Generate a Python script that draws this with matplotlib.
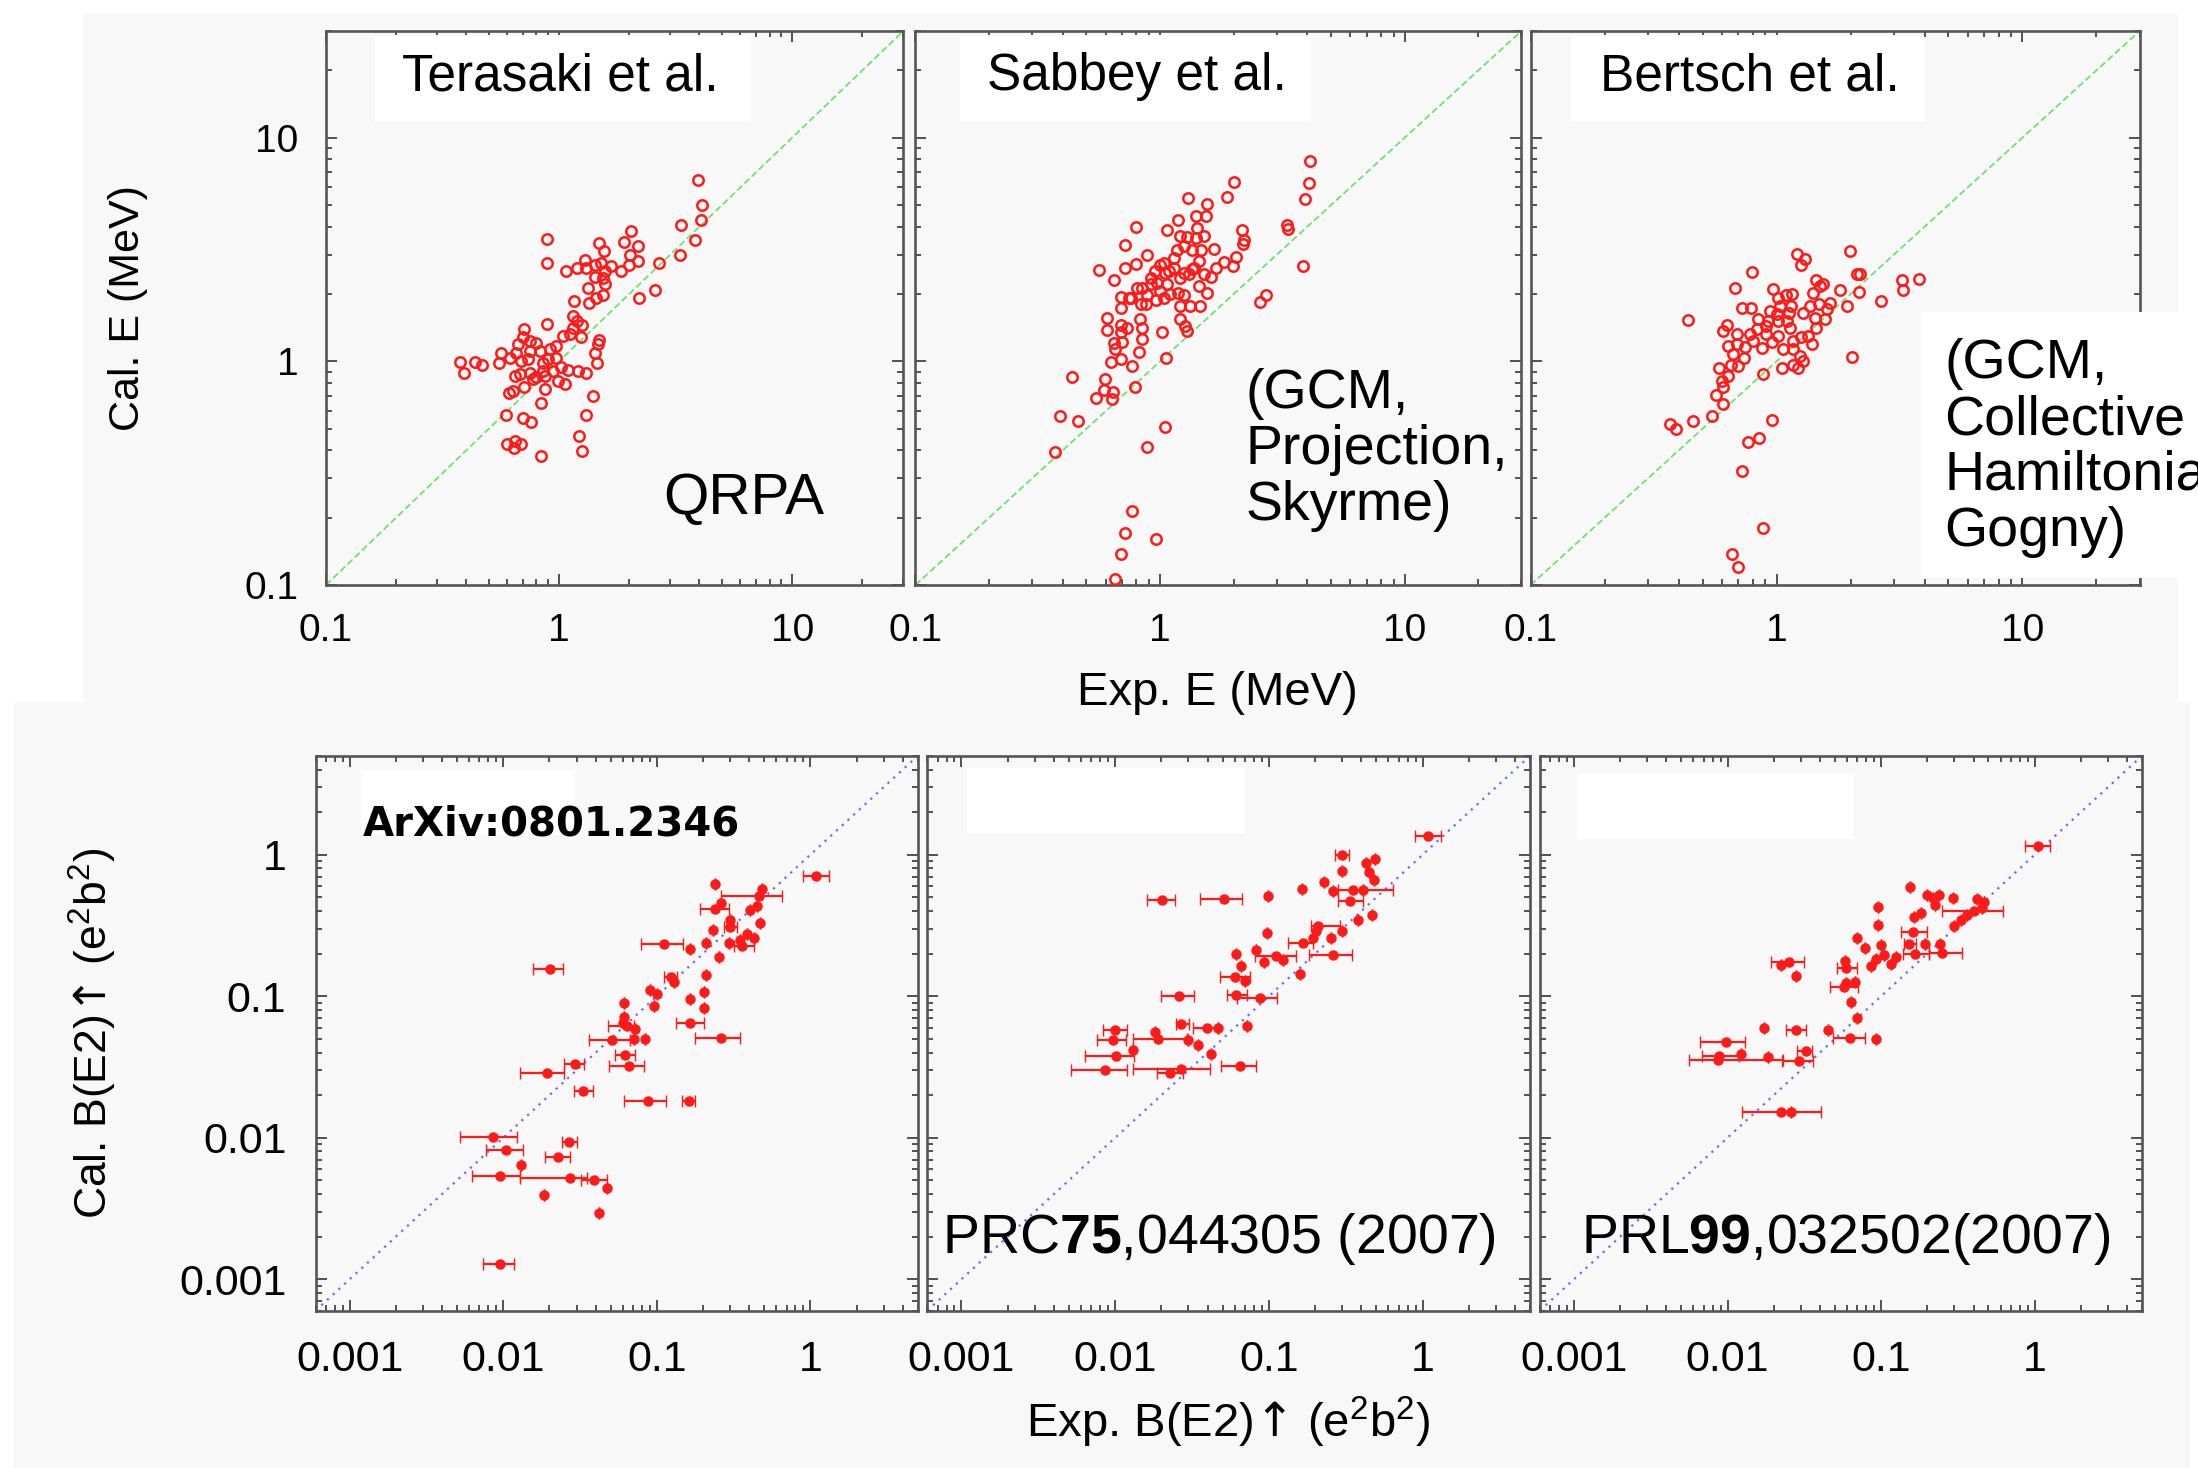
"""
Energies and B(E2) values: calculation vs experiment for six model sets
"""

import numpy as np
import matplotlib
matplotlib.use('Agg')
import matplotlib.pyplot as plt
from matplotlib.patches import Rectangle
from matplotlib.ticker import LogLocator, FuncFormatter, NullFormatter

plt.rcParams['font.family'] = ['Liberation Sans', 'DejaVu Sans']
plt.rcParams['mathtext.fontset'] = 'custom'
plt.rcParams['mathtext.rm'] = 'Liberation Sans'
plt.rcParams['mathtext.it'] = 'Liberation Sans:italic'
plt.rcParams['mathtext.bf'] = 'Liberation Sans:bold'
plt.rcParams['mathtext.sf'] = 'DejaVu Sans'  # only used for the tall up-arrow

# ---- top row: 2+ energies (MeV), exp vs cal ----
terasaki_exp = [3.93, 4.10, 4.06, 3.34, 3.84, 3.30, 2.69, 2.57, 2.21, 2.04,
                1.90, 2.19, 2.02, 2.19, 1.48, 1.56, 0.887, 0.887, 1.07, 1.19,
                1.29, 1.31, 1.42, 1.52, 1.67, 1.85, 1.99, 1.57, 1.42, 1.54,
                1.57, 1.33, 1.54, 1.44, 1.35, 1.16, 1.15, 1.19, 1.26, 0.887,
                0.705, 1.15, 1.04, 1.11, 1.24, 1.48, 1.47, 1.43, 1.46, 0.70,
                0.747, 0.80, 0.667, 0.656, 0.747, 0.825, 0.91, 0.97, 0.565, 0.614,
                0.69, 0.735, 0.895, 0.97, 0.375, 0.391, 0.438, 0.467, 0.552, 0.853,
                0.853, 0.645, 0.677, 0.747, 0.80, 0.867, 0.94, 1.02, 1.09, 0.99,
                1.06, 1.20, 1.31, 0.867, 0.707, 0.634, 0.608, 0.772, 1.40, 0.839,
                0.590, 0.70, 0.755, 1.31, 1.22, 1.26, 0.60, 0.645, 0.69, 0.64,
                0.839]
terasaki_cal = [6.48, 4.98, 4.30, 4.08, 3.48, 2.98, 2.74, 2.08, 1.92, 3.81,
                3.42, 3.27, 3.00, 2.80, 3.38, 3.11, 3.52, 2.75, 2.53, 2.62,
                2.85, 2.62, 2.71, 2.76, 2.68, 2.53, 2.71, 2.53, 2.38, 2.36,
                2.21, 2.12, 1.99, 1.92, 1.82, 1.86, 1.59, 1.51, 1.46, 1.47,
                1.39, 1.41, 1.30, 1.32, 1.28, 1.24, 1.19, 1.09, 0.98, 1.28,
                1.23, 1.21, 1.19, 1.09, 1.11, 1.11, 1.13, 1.17, 1.09, 1.04,
                1.00, 1.02, 1.02, 1.04, 0.995, 0.89, 0.995, 0.965, 0.98, 0.98,
                0.907, 0.862, 0.877, 0.89, 0.847, 0.862, 0.907, 0.94, 0.914, 0.82,
                0.79, 0.907, 0.886, 0.752, 0.765, 0.739, 0.719, 0.833, 0.702, 0.651,
                0.576, 0.556, 0.534, 0.576, 0.466, 0.399, 0.428, 0.442, 0.428, 0.41,
                0.378]

sabbey_exp = [4.10, 4.07, 3.92, 3.85, 3.30, 3.34, 2.71, 2.56, 2.01, 1.88,
              2.17, 2.21, 2.19, 2.04, 1.98, 1.83, 1.66, 1.69, 1.55, 1.54,
              1.40, 1.30, 1.18, 1.07, 1.42, 1.51, 1.40, 1.29, 1.21, 1.47,
              1.35, 1.25, 1.17, 1.14, 1.04, 1.00, 0.95, 1.05, 1.14, 1.25,
              1.38, 1.44, 1.51, 1.61, 1.44, 1.56, 1.33, 1.46, 1.21, 1.18,
              1.10, 1.07, 1.00, 0.96, 0.914, 0.886, 0.845, 0.872, 0.832, 0.794,
              0.722, 0.88, 0.798, 0.722, 0.565, 0.647, 0.689, 0.745, 0.689, 0.604,
              0.607, 0.689, 0.734, 0.689, 0.826, 0.845, 0.845, 0.70, 0.647, 0.657,
              0.627, 0.689, 0.764, 0.819, 1.02, 1.21, 1.27, 1.29, 1.06, 0.598,
              0.588, 0.643, 0.549, 0.637, 0.788, 0.437, 0.388, 0.46, 0.371, 1.05,
              0.886, 0.769, 0.717, 0.965, 0.695, 0.657,
              0.974, 1.21, 1.31, 0.914, 0.807, 0.757, 1.04, 1.25, 1.09, 1.35]
sabbey_cal = [7.87, 6.26, 5.30, 2.66, 4.08, 3.92, 1.98, 1.84, 6.32, 5.41,
              3.85, 3.50, 3.36, 2.92, 2.66, 2.77, 3.19, 2.62, 5.05, 4.45,
              4.45, 5.37, 4.30, 3.85, 3.95, 3.62, 3.56, 3.58, 3.62, 3.16,
              3.14, 3.27, 3.16, 2.90, 2.75, 2.71, 2.53, 2.49, 2.62, 2.49,
              2.62, 2.80, 2.45, 2.39, 2.17, 2.03, 1.77, 1.76, 1.77, 2.03,
              2.01, 2.21, 2.06, 1.89, 2.21, 1.99, 2.13, 1.80, 1.80, 2.73,
              2.62, 3.00, 3.98, 3.30, 2.55, 2.32, 1.94, 1.92, 1.74, 1.56,
              1.38, 1.46, 1.41, 1.35, 1.54, 1.41, 1.26, 1.22, 1.21, 1.13,
              0.99, 1.02, 0.955, 1.10, 1.35, 1.54, 1.44, 1.37, 1.03, 0.833,
              0.744, 0.731, 0.683, 0.679, 0.764, 0.847, 0.568, 0.543, 0.395, 0.511,
              0.416, 0.214, 0.171, 0.160, 0.137, 0.106,
              2.24, 2.36, 2.45, 2.36, 2.13, 1.92, 1.92, 1.99, 2.53, 2.58]

bertsch_exp = [1.99, 1.21, 1.30, 1.26, 0.798, 2.13, 2.18, 3.25, 3.79, 3.27,
               2.17, 2.67, 1.94, 1.81, 1.45, 1.50, 1.55, 1.41, 1.65, 1.60,
               1.49, 1.37, 1.28, 1.43, 1.57, 1.45, 1.34, 1.26, 1.17, 1.40,
               0.677, 0.97, 1.09, 1.16, 0.721, 0.784, 1.015, 1.03, 1.15, 1.12,
               1.00, 0.925, 0.842, 0.91, 1.10, 1.13, 0.63, 0.607, 0.688, 0.779,
               0.829, 0.91, 1.015, 0.636, 0.688, 0.743, 0.803, 0.869, 0.954, 0.666,
               0.736, 0.65, 0.698, 0.584, 0.636, 0.598, 0.607, 0.565, 0.603, 0.544,
               0.458, 0.368, 0.39, 0.437, 0.882, 1.05, 1.17, 1.22, 1.28, 1.24,
               1.06, 1.17, 2.02, 0.954, 0.767, 0.85, 0.721, 0.882, 0.66, 0.698,
               1.015, 0.94]
bertsch_cal = [3.11, 3.03, 2.87, 2.71, 2.51, 2.45, 2.45, 2.31, 2.34, 2.08,
               2.04, 1.86, 1.77, 2.08, 2.30, 2.17, 2.21, 2.03, 1.83, 1.71,
               1.80, 1.77, 1.65, 1.57, 1.54, 1.41, 1.30, 1.28, 1.23, 1.20,
               2.13, 2.10, 1.99, 2.00, 1.73, 1.73, 1.92, 1.77, 1.77, 1.65,
               1.62, 1.51, 1.54, 1.44, 1.51, 1.41, 1.46, 1.37, 1.32, 1.32,
               1.39, 1.32, 1.30, 1.17, 1.19, 1.16, 1.23, 1.15, 1.22, 1.08,
               1.04, 0.965, 0.955, 0.938, 0.862, 0.819, 0.764, 0.709, 0.645, 0.572,
               0.543, 0.525, 0.499, 1.53, 0.882, 0.938, 0.965, 0.929, 1.00, 1.06,
               1.13, 1.13, 1.05, 0.549, 0.434, 0.455, 0.325, 0.179, 0.138, 0.12,
               1.51, 1.68]

# ---- bottom row: B(E2) (e^2 b^2), exp vs cal, with exp error range lo..hi ----
arxiv_exp = [1.09, 0.240, 0.484, 0.461, 0.45, 0.406, 0.240, 0.262, 0.298, 0.301,
             0.472, 0.231, 0.387, 0.427, 0.35, 0.294, 0.359, 0.209, 0.164, 0.112,
             0.253, 0.21, 0.124, 0.13, 0.0907, 0.100, 0.204, 0.165, 0.202, 0.0964,
             0.0614, 0.0614, 0.0602, 0.0640, 0.0724, 0.165, 0.0833, 0.0706, 0.0511, 0.262,
             0.0623, 0.0655, 0.0294, 0.0193, 0.0202, 0.033, 0.0871, 0.161, 0.00857, 0.0105,
             0.027, 0.0229, 0.0130, 0.00955, 0.0273, 0.0388, 0.0474, 0.0183, 0.0422, 0.00955]
arxiv_cal = [0.703, 0.624, 0.573, 0.508, 0.436, 0.405, 0.416, 0.456, 0.348, 0.309,
             0.33, 0.296, 0.277, 0.258, 0.251, 0.238, 0.225, 0.238, 0.216, 0.235,
             0.188, 0.141, 0.136, 0.126, 0.110, 0.104, 0.107, 0.0964, 0.0828, 0.0860,
             0.0898, 0.0716, 0.0649, 0.0621, 0.0589, 0.0649, 0.050, 0.050, 0.0489, 0.0503,
             0.0382, 0.0321, 0.033, 0.0288, 0.156, 0.0214, 0.0181, 0.0181, 0.0102, 0.00819,
             0.00938, 0.00731, 0.00641, 0.00537, 0.0052, 0.00503, 0.00444, 0.00397, 0.00293, 0.00128]
arxiv_lo = [0.891, 0.240, 0.484, 0.262, 0.45, 0.406, 0.19, 0.262, 0.298, 0.272,
            0.472, 0.231, 0.387, 0.427, 0.35, 0.294, 0.316, 0.209, 0.164, 0.0789,
            0.253, 0.21, 0.111, 0.13, 0.0907, 0.100, 0.204, 0.165, 0.202, 0.0964,
            0.0614, 0.0614, 0.0602, 0.0478, 0.0724, 0.134, 0.0833, 0.0706, 0.036, 0.178,
            0.0531, 0.0485, 0.0247, 0.0128, 0.0157, 0.0287, 0.0608, 0.146, 0.00519, 0.00767,
            0.0241, 0.0188, 0.0130, 0.00625, 0.0129, 0.0322, 0.0474, 0.0183, 0.0422, 0.00738]
arxiv_hi = [1.32, 0.240, 0.484, 0.654, 0.45, 0.406, 0.294, 0.262, 0.298, 0.333,
            0.472, 0.231, 0.387, 0.427, 0.35, 0.294, 0.427, 0.209, 0.164, 0.148,
            0.253, 0.21, 0.135, 0.13, 0.0907, 0.100, 0.204, 0.165, 0.202, 0.0964,
            0.0614, 0.0614, 0.0602, 0.0706, 0.0724, 0.202, 0.0833, 0.0706, 0.0672, 0.346,
            0.0724, 0.0820, 0.0334, 0.0250, 0.0245, 0.0384, 0.115, 0.178, 0.0122, 0.0134,
            0.0302, 0.0273, 0.0130, 0.0128, 0.0349, 0.0474, 0.0474, 0.0183, 0.0422, 0.0118]

prc_exp = [1.09, 0.297, 0.487, 0.427, 0.297, 0.451, 0.48, 0.228, 0.164, 0.262,
           0.354, 0.412, 0.337, 0.0991, 0.0513, 0.0202, 0.472, 0.382, 0.297, 0.252,
           0.209, 0.203, 0.193, 0.166, 0.0966, 0.083, 0.0613, 0.0928, 0.111, 0.123,
           0.262, 0.0661, 0.16, 0.0598, 0.0703, 0.026, 0.0613, 0.0873, 0.0269, 0.0393,
           0.0469, 0.0721, 0.00994, 0.0182, 0.0191, 0.00969, 0.0297, 0.0347, 0.0131, 0.0102,
           0.042, 0.00863, 0.0269, 0.0228, 0.0651]
prc_cal = [1.35, 0.998, 0.934, 0.875, 0.771, 0.75, 0.665, 0.643, 0.57, 0.554,
           0.563, 0.56, 0.471, 0.511, 0.484, 0.478, 0.378, 0.344, 0.287, 0.257,
           0.316, 0.287, 0.257, 0.237, 0.282, 0.214, 0.20, 0.175, 0.193, 0.18,
           0.195, 0.164, 0.143, 0.137, 0.128, 0.0998, 0.102, 0.0967, 0.0641, 0.0593,
           0.0593, 0.0616, 0.0574, 0.0558, 0.0495, 0.0489, 0.0489, 0.0455, 0.0415, 0.0376,
           0.0393, 0.0301, 0.0307, 0.0289, 0.0324]
prc_lo = [0.889, 0.268, 0.487, 0.427, 0.297, 0.451, 0.48, 0.228, 0.164, 0.262,
          0.282, 0.412, 0.282, 0.0991, 0.0359, 0.016, 0.472, 0.382, 0.297, 0.252,
          0.188, 0.203, 0.193, 0.133, 0.0966, 0.083, 0.0613, 0.0928, 0.0817, 0.123,
          0.182, 0.0661, 0.16, 0.0481, 0.0703, 0.0199, 0.0532, 0.062, 0.0247, 0.0322,
          0.0469, 0.0721, 0.00832, 0.0182, 0.0131, 0.0076, 0.0297, 0.0347, 0.0131, 0.00637,
          0.042, 0.0052, 0.0131, 0.0187, 0.0489]
prc_hi = [1.32, 0.333, 0.487, 0.427, 0.297, 0.451, 0.48, 0.228, 0.164, 0.262,
          0.643, 0.412, 0.408, 0.0991, 0.0668, 0.0246, 0.472, 0.382, 0.297, 0.252,
          0.292, 0.203, 0.193, 0.193, 0.0966, 0.083, 0.0613, 0.0928, 0.15, 0.123,
          0.345, 0.0661, 0.16, 0.0759, 0.0703, 0.0326, 0.0721, 0.1136, 0.0301, 0.0469,
          0.0469, 0.0721, 0.0119, 0.0182, 0.0293, 0.0118, 0.0297, 0.0347, 0.0131, 0.0132,
          0.042, 0.0119, 0.0415, 0.0276, 0.0826]

prl_exp = [1.05, 0.155, 0.198, 0.218, 0.239, 0.292, 0.225, 0.424, 0.469, 0.457,
           0.404, 0.365, 0.331, 0.299, 0.0957, 0.182, 0.164, 0.0957, 0.162, 0.0702,
           0.1006, 0.0788, 0.152, 0.193, 0.243, 0.167, 0.251, 0.105, 0.125, 0.0925,
           0.0859, 0.116, 0.025, 0.0223, 0.0279, 0.0581, 0.0595, 0.0678, 0.059, 0.0575,
           0.0636, 0.0702, 0.0173, 0.0279, 0.0453, 0.0629, 0.0933, 0.00977, 0.0324, 0.0122,
           0.00883, 0.00861, 0.0184, 0.029, 0.0223, 0.0259]
prl_cal = [1.16, 0.592, 0.522, 0.495, 0.522, 0.495, 0.444, 0.487, 0.461, 0.421,
           0.398, 0.377, 0.348, 0.312, 0.428, 0.388, 0.363, 0.321, 0.283, 0.258,
           0.232, 0.22, 0.235, 0.235, 0.235, 0.20, 0.202, 0.195, 0.188, 0.182,
           0.163, 0.17, 0.175, 0.165, 0.138, 0.177, 0.159, 0.126, 0.124, 0.117,
           0.0907, 0.0704, 0.0598, 0.0573, 0.0582, 0.0508, 0.0495, 0.0473, 0.0409, 0.0392,
           0.0377, 0.0357, 0.0371, 0.0348, 0.0152, 0.0152]
prl_lo = [0.867, 0.155, 0.198, 0.218, 0.239, 0.292, 0.225, 0.424, 0.469, 0.457,
          0.251, 0.365, 0.331, 0.299, 0.0957, 0.182, 0.164, 0.0957, 0.135, 0.0702,
          0.1006, 0.0788, 0.141, 0.193, 0.243, 0.138, 0.206, 0.105, 0.125, 0.0925,
          0.0859, 0.116, 0.0193, 0.0223, 0.0279, 0.0581, 0.0513, 0.0678, 0.059, 0.0464,
          0.0636, 0.0702, 0.0173, 0.024, 0.0453, 0.0483, 0.0933, 0.00664, 0.0283, 0.0122,
          0.00687, 0.00557, 0.0184, 0.0226, 0.0125, 0.0259]
prl_hi = [1.26, 0.155, 0.198, 0.218, 0.239, 0.292, 0.225, 0.424, 0.469, 0.457,
          0.627, 0.365, 0.331, 0.299, 0.0957, 0.182, 0.164, 0.0957, 0.198, 0.0702,
          0.1006, 0.0788, 0.169, 0.193, 0.243, 0.206, 0.336, 0.105, 0.125, 0.0925,
          0.0859, 0.116, 0.0316, 0.0223, 0.0279, 0.0581, 0.0702, 0.0678, 0.059, 0.071,
          0.0636, 0.0702, 0.0173, 0.0324, 0.0453, 0.0788, 0.0933, 0.0129, 0.0357, 0.0122,
          0.0119, 0.0231, 0.0184, 0.0361, 0.0406, 0.0259]

BG = '#f8f8f8'
RED = '#ff1a1a'
UP = '$\\mathsf{\u2191}$'  # DejaVu arrow, typed as a plain char so mathtext adds no spacing


def style_axes(ax, lims, tick_size, pad, show_y):
    ax.set_xscale('log')
    ax.set_yscale('log')
    ax.set_xlim(lims)
    ax.set_ylim(lims)
    ax.set_facecolor(BG)
    for s in ax.spines.values():
        s.set_color('#555555')
        s.set_linewidth(1.9)
    for axis in (ax.xaxis, ax.yaxis):
        axis.set_major_locator(LogLocator(base=10, numticks=12))
        axis.set_minor_locator(LogLocator(base=10, subs=np.arange(2, 10), numticks=12))
        axis.set_minor_formatter(NullFormatter())
        axis.set_major_formatter(FuncFormatter(lambda v, p: '%g' % v))
    ax.tick_params(which='both', direction='in', top=True, right=True,
                   color='#444444', width=1.3, labelsize=tick_size, pad=pad)
    ax.tick_params(which='major', length=8)
    ax.tick_params(which='minor', length=4)
    if not show_y:
        ax.tick_params(labelleft=False)


def white_box(ax, x0, y0, x1, y1):
    ax.add_patch(Rectangle((x0, y0), x1 - x0, y1 - y0, transform=ax.transAxes,
                           facecolor='white', edgecolor='none', zorder=5, clip_on=False))


def draw():
    fig = plt.figure(figsize=(21.98, 14.68), dpi=100)
    fig.patch.set_facecolor('white')

    # light grey backdrops of the two original figures
    fig.add_artist(Rectangle((0.0378, 0.5218), 0.953, 0.4693, transform=fig.transFigure,
                             facecolor=BG, edgecolor='none', zorder=0))
    fig.add_artist(Rectangle((0.0064, 0.0), 0.990, 0.5218, transform=fig.transFigure,
                             facecolor=BG, edgecolor='none', zorder=0))

    # top row: energies
    e_lims = (0.1, 30)
    top_rects = [[0.1483, 0.6015, 0.2627, 0.3774],
                 [0.4165, 0.6015, 0.2757, 0.3774],
                 [0.6964, 0.6015, 0.2771, 0.3774]]
    top_data = [(terasaki_exp, terasaki_cal), (sabbey_exp, sabbey_cal), (bertsch_exp, bertsch_cal)]
    top_axes = []
    for i, (rect, (ex, ca)) in enumerate(zip(top_rects, top_data)):
        ax = fig.add_axes(rect)
        style_axes(ax, e_lims, 28, 20, show_y=(i == 0))
        ax.plot(e_lims, e_lims, linestyle=(0, (4, 2)), color='#66e066', linewidth=1.2, zorder=2)
        ax.plot(ex, ca, 'o', mfc='none', mec=RED, ms=7.5, mew=1.8, zorder=3)
        top_axes.append(ax)

    ax1, ax2, ax3 = top_axes
    white_box(ax1, 0.085, 0.836, 0.736, 0.993)
    ax1.text(0.132, 0.917, 'Terasaki et al.', transform=ax1.transAxes, fontsize=37,
             va='center', ha='left', zorder=6)
    ax1.text(0.584, 0.155, 'QRPA', transform=ax1.transAxes, fontsize=42,
             va='center', ha='left', zorder=6)

    white_box(ax2, 0.073, 0.836, 0.652, 0.993)
    ax2.text(0.118, 0.917, 'Sabbey et al.', transform=ax2.transAxes, fontsize=37,
             va='center', ha='left', zorder=6)
    ax2.text(0.544, 0.244, '(GCM,\nProjection,\nSkyrme)', transform=ax2.transAxes,
             fontsize=40, va='center', ha='left', linespacing=1.1, zorder=6)

    white_box(ax3, 0.067, 0.836, 0.646, 0.993)
    ax3.text(0.114, 0.917, 'Bertsch et al.', transform=ax3.transAxes, fontsize=37,
             va='center', ha='left', zorder=6)
    # the reference crops this label at the right edge of the picture
    white_box(ax3, 0.641, 0.013, 1.25, 0.493)
    ax3.text(0.679, 0.247, '(GCM,\nCollective\nHamiltonian,\nGogny)', transform=ax3.transAxes,
             fontsize=40, va='center', ha='left', linespacing=1.1, zorder=6, clip_on=False)

    fig.text(0.0582, 0.7902, 'Cal. E (MeV)', rotation=90, fontsize=31, ha='center', va='center')
    fig.text(0.5537, 0.5279, 'Exp. E (MeV)', fontsize=34, ha='center', va='center')

    # bottom row: B(E2)
    b_lims = (6e-4, 5)
    bot_rects = [[0.1436, 0.1072, 0.2739, 0.3779],
                 [0.4219, 0.1072, 0.2742, 0.3779],
                 [0.7006, 0.1072, 0.2739, 0.3779]]
    bot_data = [(arxiv_exp, arxiv_cal, arxiv_lo, arxiv_hi),
                (prc_exp, prc_cal, prc_lo, prc_hi),
                (prl_exp, prl_cal, prl_lo, prl_hi)]
    bot_axes = []
    for i, (rect, (ex, ca, lo, hi)) in enumerate(zip(bot_rects, bot_data)):
        ax = fig.add_axes(rect)
        style_axes(ax, b_lims, 31, 21, show_y=(i == 0))
        ax.plot(b_lims, b_lims, linestyle=(0, (1, 2.5)), color='#6a6aff', linewidth=1.6, zorder=2)
        ex = np.array(ex)
        xerr = [ex - np.array(lo), np.array(hi) - ex]
        ax.errorbar(ex, ca, xerr=xerr, fmt='o', color=RED, ms=6.5, mew=1.0,
                    elinewidth=1.6, capsize=4, capthick=1.6, zorder=3)
        bot_axes.append(ax)

    b1, b2, b3 = bot_axes
    white_box(b1, 0.075, 0.858, 0.431, 0.974)
    b1.text(0.079, 0.876, 'ArXiv:0801.2346', transform=b1.transAxes, fontsize=29,
            fontweight='bold', family='DejaVu Sans', va='center', ha='left', zorder=6)
    white_box(b2, 0.066, 0.861, 0.525, 0.978)
    b2.text(0.024, 0.129, r'PRC$\mathbf{75}$,044305 (2007)', transform=b2.transAxes,
            fontsize=40, va='center', ha='left', zorder=6)
    white_box(b3, 0.061, 0.850, 0.522, 0.970)
    b3.text(0.068, 0.129, r'PRL$\mathbf{99}$,032502(2007)', transform=b3.transAxes,
            fontsize=40, va='center', ha='left', zorder=6)

    fig.text(0.0423, 0.2963, 'Cal. B(E2)' + UP + ' (e$^2$b$^2$)', rotation=90,
             fontsize=32, ha='center', va='center')
    fig.text(0.5587, 0.0307, 'Exp. B(E2)' + UP + ' (e$^2$b$^2$)', fontsize=34,
             ha='center', va='center')

    fig.savefig('out.png', dpi=100)


if __name__ == "__main__":
    draw()
